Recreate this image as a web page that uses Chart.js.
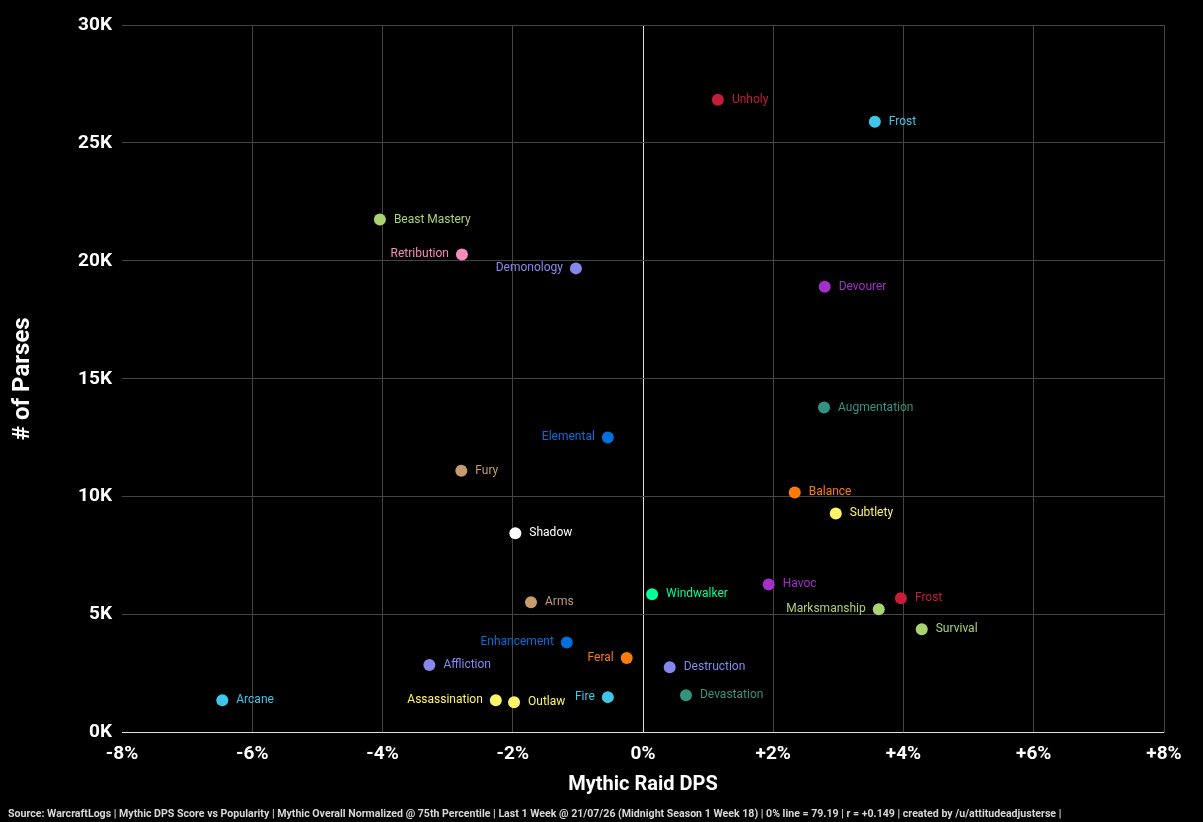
<!DOCTYPE html>
<html>
<head>
<meta charset="utf-8">
<script src="https://cdn.jsdelivr.net/npm/chart.js@4.4.0/dist/chart.umd.min.js"></script>
<style>
  html,body{margin:0;padding:0;background:#000;}
  #wrap{width:1203px;height:822px;}
</style>
</head>
<body>
<div id="wrap"><canvas id="chart" width="1203" height="822"></canvas></div>
<script>
// specs, DPS vs 0% line (%), parses (K)
const specs = ['Unholy','Frost','Beast Mastery','Retribution','Demonology','Devourer','Augmentation','Elemental','Fury','Balance','Subtlety','Shadow','Havoc','Windwalker','Frost','Arms','Marksmanship','Survival','Enhancement','Feral','Affliction','Destruction','Devastation','Fire','Arcane','Assassination','Outlaw'];
const dpsPct = [1.15,3.56,-4.04,-2.78,-1.03,2.79,2.78,-0.54,-2.79,2.33,2.96,-1.96,1.93,0.14,3.96,-1.72,3.62,4.28,-1.17,-0.25,-3.28,0.41,0.66,-0.54,-6.46,-2.26,-1.98];
const parses = [26.83,25.9,21.75,20.27,19.68,18.9,13.78,12.51,11.1,10.18,9.29,8.45,6.28,5.86,5.69,5.52,5.23,4.38,3.82,3.16,2.86,2.77,1.58,1.5,1.37,1.37,1.28];
const colors = ['#C41E3A','#3FC7EB','#AAD372','#F48CBA','#8788EE','#A330C9','#33937F','#0070DD','#C69B6D','#FF7C0A','#FFF468','#FFFFFF','#A330C9','#00FF98','#C41E3A','#C69B6D','#AAD372','#AAD372','#0070DD','#FF7C0A','#8788EE','#8788EE','#33937F','#3FC7EB','#3FC7EB','#FFF468','#FFF468'];
const leftLabel = [3,4,7,16,18,19,23,25]; // indexes labelled on the left side

const xTicks = [-8,-6,-4,-2,0,2,4,6,8];
const yTicks = [0,5,10,15,20,25,30];

const footer = 'Source: WarcraftLogs | Mythic DPS Score vs Popularity | Mythic Overall Normalized @ 75th Percentile | Last 1 Week @ 21/07/26 (Midnight Season 1 Week 18) | 0% line = 79.19 | r = +0.149 | created by /u/attitudeadjusterse |';

const points = dpsPct.map((x,i)=>({x, y: parses[i]}));

// draws spec names beside the dots + the source line
const labelPlugin = {
  id:'specLabels',
  afterDatasetsDraw(chart){
    const ctx = chart.ctx;
    const meta = chart.getDatasetMeta(0);
    ctx.save();
    ctx.font = '12px Roboto';
    ctx.textBaseline = 'middle';
    meta.data.forEach((el,i)=>{
      ctx.fillStyle = colors[i];
      if(leftLabel.includes(i)){
        ctx.textAlign = 'right';
        ctx.fillText(specs[i], el.x-13, el.y);
      } else {
        ctx.textAlign = 'left';
        ctx.fillText(specs[i], el.x+14, el.y);
      }
    });
    ctx.font = 'bold 10.6px Roboto';
    ctx.textAlign = 'left';
    ctx.fillStyle = '#d8d8d8';
    ctx.fillText(footer, 8, 814);
    ctx.restore();
  }
};

new Chart(document.getElementById('chart'),{
  type:'scatter',
  data:{
    datasets:[{
      data: points,
      backgroundColor: colors,
      borderWidth: 0,
      pointRadius: 6,
      pointHoverRadius: 6
    }]
  },
  options:{
    responsive:false,
    animation:false,
    events:[],
    layout:{padding:{left:0,right:39,top:25,bottom:25}},
    plugins:{
      legend:{display:false},
      tooltip:{enabled:false},
      title:{display:false}
    },
    scales:{
      x:{
        type:'linear',
        min:-8, max:8,
        afterBuildTicks: s=>{ s.ticks = xTicks.map(v=>({value:v})); },
        afterFit: s=>{ s.height = 64.5; },
        border:{display:false},
        grid:{
          drawTicks:false,
          color: c=> c.tick && c.tick.value===0 ? '#e0e0e0' : (c.tick && c.tick.value===-8 ? 'rgba(0,0,0,0)' : '#444'),
          lineWidth: 1
        },
        ticks:{
          color:'#fff',
          padding:10,
          font:{family:'Roboto',size:19,weight:'bold'},
          callback: v=> v>0 ? '+'+v+'%' : v+'%'
        },
        title:{
          display:true,
          text:'Mythic Raid DPS',
          color:'#fff',
          font:{family:'Roboto',size:20,weight:'bold'},
          padding:{top:3,bottom:0}
        }
      },
      y:{
        type:'linear',
        min:0, max:30,
        afterBuildTicks: s=>{ s.ticks = yTicks.map(v=>({value:v})); },
        afterFit: s=>{ s.width = 122; },
        border:{display:false},
        grid:{
          drawTicks:false,
          color: c=> c.tick && c.tick.value===0 ? '#e0e0e0' : '#444',
          lineWidth: 1
        },
        ticks:{
          color:'#fff',
          padding:10,
          font:{family:'Roboto',size:19,weight:'bold'},
          callback: v=> v+'K'
        },
        title:{
          display:true,
          text:'# of Parses',
          color:'#fff',
          font:{family:'Roboto',size:24,weight:'bold'},
          padding:{top:9,bottom:0}
        }
      }
    }
  },
  plugins:[labelPlugin]
});
</script>
</body>
</html>
